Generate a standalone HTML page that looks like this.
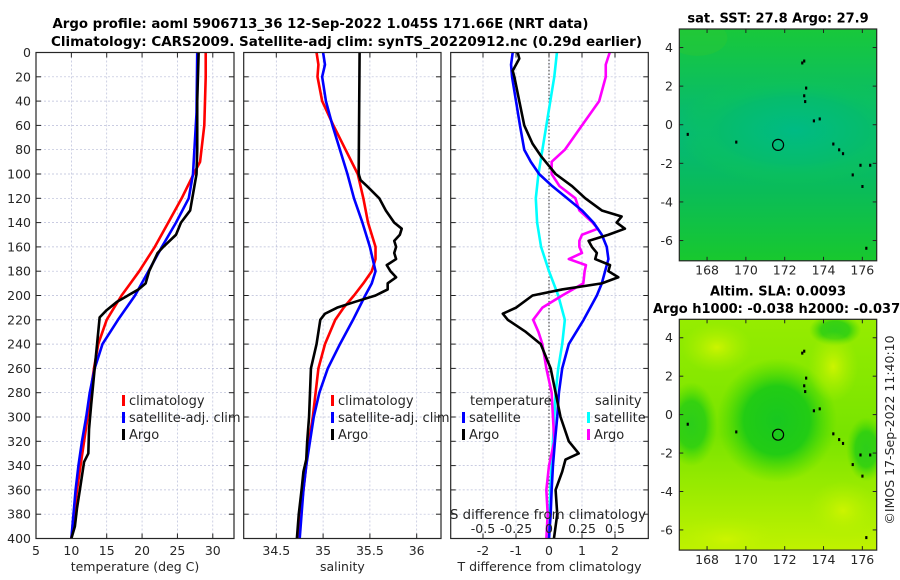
<!DOCTYPE html>
<html><head><meta charset="utf-8">
<style>
html,body{margin:0;padding:0;background:#fff;}
svg{display:block;font-family:"DejaVu Sans","Liberation Sans",sans-serif;}
</style></head>
<body>
<svg id="fig" width="900" height="580" viewBox="0 0 900 580" xmlns="http://www.w3.org/2000/svg">
<defs>
<radialGradient id="sstTeal" cx="0.5" cy="0.5" r="0.5">
<stop offset="0" stop-color="#00bb84"/><stop offset="0.6" stop-color="#06bc6c"/><stop offset="1" stop-color="#10c850" stop-opacity="0"/>
</radialGradient>
<linearGradient id="sstBase" x1="0" y1="0" x2="0" y2="1">
<stop offset="0" stop-color="#18c83a"/><stop offset="0.45" stop-color="#04b878"/><stop offset="0.7" stop-color="#0abc58"/><stop offset="1" stop-color="#18c82e"/>
</linearGradient>
<linearGradient id="slaBase" x1="0" y1="0" x2="0" y2="1">
<stop offset="0" stop-color="#96ec00"/><stop offset="0.5" stop-color="#78e400"/><stop offset="1" stop-color="#c0f200"/>
</linearGradient>
<radialGradient id="slaBlob" cx="0.5" cy="0.5" r="0.5">
<stop offset="0" stop-color="#18c820"/><stop offset="0.55" stop-color="#22cc14"/><stop offset="1" stop-color="#44d800" stop-opacity="0"/>
</radialGradient>
<radialGradient id="slaYel" cx="0.5" cy="0.5" r="0.5">
<stop offset="0" stop-color="#ccf400"/><stop offset="1" stop-color="#b0f000" stop-opacity="0"/>
</radialGradient>
<clipPath id="clipM1"><rect x="679.3" y="29" width="197.4" height="231.8"/></clipPath>
<clipPath id="clipM2"><rect x="679.3" y="319.3" width="197.4" height="230.8"/></clipPath>
</defs>
</svg>
<script>
// ---------------- data ----------------
const depthTicks = [0,20,40,60,80,100,120,140,160,180,200,220,240,260,280,300,320,340,360,380,400];
const tempTicks = [5,10,15,20,25,30];
const salTicks = [34.5,35,35.5,36];
const tdiffTicks = [-2,-1,0,1,2];
const sdiffTicks = [-0.5,-0.25,0,0.25,0.5];
const sdiffTickLabels = ["-0.5","-0.25","0","0.25","0.5"];
const lonTicks = [168,170,172,174,176];
const latTicks = [4,2,0,-2,-4,-6];

const climTempDepth = [0,20,60,90,100,120,140,160,180,200,220,240,260,280,300,320,340,360,380,400];
const climTemp      = [29.0,29.0,28.8,28.2,27.3,25.6,23.7,21.8,19.6,17.1,15.0,13.8,13.2,12.7,12.3,11.8,11.3,10.8,10.4,10.0];
const satTempDepth  = [0,50,100,120,140,160,180,200,220,240,260,280,300,320,340,360,380,400];
const satTemp       = [27.8,27.7,27.2,26.6,24.8,22.8,20.9,19.0,16.6,14.4,13.3,12.6,12.1,11.5,11.0,10.6,10.3,10.0];
const argoTempDepth = [0,40,80,100,110,130,140,150,160,165,180,190,195,205,212,218,230,260,290,310,330,337,360,375,390,400];
const argoTemp      = [28.0,27.8,27.8,27.7,27.4,26.8,25.5,24.8,23.0,22.2,21.0,20.5,19.5,16.5,15.0,14.0,13.8,13.3,12.8,12.5,12.4,11.8,11.2,10.8,10.5,10.0];

const climSalDepth = [0,10,20,40,60,80,100,120,140,160,170,180,190,200,210,220,240,260,280,300,320,340,360,380,400];
const climSal      = [34.93,34.95,34.94,34.99,35.11,35.24,35.37,35.43,35.48,35.56,35.56,35.52,35.43,35.33,35.22,35.13,35.02,34.95,34.92,34.89,34.85,34.82,34.79,34.76,34.74];
const satSalDepth  = [0,10,20,40,60,80,100,120,140,160,180,190,200,220,240,260,280,300,320,340,360,380,400];
const satSal       = [35.0,35.02,34.99,35.03,35.1,35.18,35.26,35.33,35.42,35.5,35.56,35.52,35.45,35.32,35.18,35.05,34.96,34.9,34.86,34.82,34.79,34.77,34.75];
const argoSalDepth = [0,100,105,110,120,130,140,145,150,155,160,165,170,175,180,185,190,195,200,205,210,215,220,240,260,280,300,320,335,345,360,380,400];
const argoSal      = [35.39,35.38,35.40,35.47,35.6,35.67,35.76,35.84,35.82,35.76,35.78,35.76,35.78,35.68,35.72,35.78,35.69,35.69,35.56,35.35,35.15,35.02,34.97,34.93,34.87,34.86,34.85,34.83,34.82,34.79,34.77,34.74,34.72];

const satTdDepth  = [0,10,20,40,60,80,90,100,110,120,130,140,150,160,170,180,190,200,220,240,260,280,300,320,340,360,380,400];
const satTd       = [-1.1,-1.15,-1.12,-1.0,-0.88,-0.75,-0.55,-0.3,0.1,0.55,1.0,1.35,1.6,1.75,1.8,1.7,1.6,1.45,1.05,0.6,0.4,0.3,0.25,0.18,0.12,0.08,0.05,0.0];
const argoTdDepth = [0,5,15,20,40,60,75,85,95,100,110,120,130,135,140,145,150,155,160,165,170,175,180,185,190,195,200,210,215,220,230,240,250,260,280,300,320,330,335,345,360,380,400];
const argoTd      = [-0.95,-0.9,-1.1,-1.05,-0.9,-0.75,-0.5,-0.25,0.05,0.2,0.7,1.1,1.6,2.2,2.05,2.3,1.8,1.2,1.3,1.45,1.4,1.85,1.8,2.1,1.6,0.4,-0.5,-1.0,-1.4,-1.25,-0.7,-0.25,-0.1,0.05,0.2,0.35,0.6,0.9,0.5,0.4,0.2,0.25,0.15];
const satSdDepth  = [0,20,40,60,80,100,120,140,160,180,200,220,240,260,280,300,320,360,400];
const satSd       = [0.06,0.04,0.01,-0.02,-0.05,-0.08,-0.1,-0.09,-0.06,0.0,0.07,0.12,0.1,0.07,0.05,0.04,0.03,0.01,0.0];
const argoSdDepth = [0,10,20,40,60,80,90,100,110,120,130,140,145,150,155,160,165,170,175,180,190,200,210,220,230,240,260,280,300,320,340,360,380,400];
const argoSd      = [0.46,0.43,0.43,0.38,0.25,0.12,0.02,0.02,0.08,0.2,0.23,0.33,0.37,0.25,0.23,0.23,0.25,0.15,0.28,0.27,0.26,0.1,-0.05,-0.12,-0.08,-0.05,-0.02,0.02,0.03,0.04,0.0,-0.02,-0.01,-0.02];

const argoLon = [171.66];
const argoLat = [-1.045];
const islandLon = [173.0,172.9,173.1,173.0,173.05,173.5,173.8,174.5,174.8,175.0,175.5,175.9,176.4,176.0,167.0,169.5,176.2];
const islandLat = [3.3,3.2,1.9,1.5,1.2,0.2,0.3,-1.0,-1.3,-1.5,-2.6,-2.1,-2.1,-3.2,-0.5,-0.9,-6.4];

// ---------------- helpers ----------------
const NS="http://www.w3.org/2000/svg";
const svg=document.getElementById('fig');
function mk(tag,attrs,parent){const e=document.createElementNS(NS,tag);for(const k in attrs)e.setAttribute(k,attrs[k]);(parent||svg).appendChild(e);return e;}
function txt(s,attrs,parent){const e=mk('text',attrs,parent);e.textContent=s;return e;}
function lin(d0,d1,r0,r1){return v=>r0+(v-d0)*(r1-r0)/(d1-d0);}

const Y0=52.5,Y1=538.5;
const yDepth=lin(0,400,Y0,Y1);

function panel(name,x0,x1,xs,xt,xlab,xtitle){
  const g=mk('g',{});
  
  
  depthTicks.forEach(d=>{
    const y=yDepth(d);
    const l=mk('line',{x1:x0,x2:x1,y1:y,y2:y,stroke:'#b8bcd8','stroke-width':0.7,'stroke-dasharray':'2,2'},g);
    
  });
  xt.forEach(v=>{
    const x=xs(v);
    const l=mk('line',{x1:x,x2:x,y1:Y0,y2:Y1,stroke:'#b8bcd8','stroke-width':0.7,'stroke-dasharray':'2,2'},g);
    
  });
  depthTicks.forEach(d=>{const y=yDepth(d);
    mk('line',{x1:x0,x2:x0+5,y1:y,y2:y,stroke:'#222','stroke-width':1},g);
    mk('line',{x1:x1-5,x2:x1,y1:y,y2:y,stroke:'#222','stroke-width':1},g);});
  xt.forEach((v,i)=>{const x=xs(v);
    mk('line',{x1:x,x2:x,y1:Y1,y2:Y1-5,stroke:'#222','stroke-width':1},g);
    mk('line',{x1:x,x2:x,y1:Y0,y2:Y0+5,stroke:'#222','stroke-width':1},g);
    const t=txt(xlab[i],{x:x,y:555,'font-size':12.5,'text-anchor':'middle',fill:'#262626'},g);
    
  });
  const tt=txt(xtitle,{x:(x0+x1)/2,y:571,'font-size':12.5,'text-anchor':'middle',fill:'#262626'},g);
  
  return g;
}
function frame(x0,x1){
  const r=mk('rect',{x:x0,y:Y0,width:x1-x0,height:Y1-Y0,fill:'none',stroke:'#262626','stroke-width':1.2});
  
}
function profile(name,depths,vals,xs,color,w){
  let d='';
  depths.forEach((z,i)=>{d+=(i?'L':'M')+xs(vals[i]).toFixed(2)+','+yDepth(z).toFixed(2);});
  const p=mk('path',{d:d,fill:'none',stroke:color,'stroke-width':w||2.6,'stroke-linejoin':'round'});
  
  
  return p;
}
function legendEntry(name,x,y,color,label){
  const g=mk('g',{});
  
  
  mk('rect',{x:x,y:y-10,width:3,height:11,fill:color},g);
  txt(label,{x:x+7,y:y,'font-size':13,fill:'#262626'},g);
}

// ---------------- titles ----------------
const t1=txt('Argo profile: aoml 5906713_36 12-Sep-2022 1.045S 171.66E (NRT data)',{x:52.5,y:28,'font-size':13,'font-weight':'bold',textLength:536,lengthAdjust:'spacingAndGlyphs',fill:'#000'});

const t2=txt('Climatology: CARS2009. Satellite-adj clim: synTS_20220912.nc (0.29d earlier)',{x:51,y:46,'font-size':13,'font-weight':'bold',textLength:591,lengthAdjust:'spacingAndGlyphs',fill:'#000'});


depthTicks.forEach(d=>{const t=txt(String(d),{x:31,y:yDepth(d)+4.5,'font-size':12.5,'text-anchor':'end',fill:'#262626'});
  });

// ---------------- panel 1: temperature ----------------
const xT=lin(5,33,36,234);
panel('temperature-panel',36,234,xT,tempTicks,tempTicks.map(String),'temperature (deg C)');
profile('temp-climatology-line',climTempDepth,climTemp,xT,'#ff0000');
profile('temp-satellite-line',satTempDepth,satTemp,xT,'#0000ff');
profile('temp-argo-line',argoTempDepth,argoTemp,xT,'#000000');
frame(36,234);
legendEntry('legend-climatology',122,405,'#ff0000','climatology');
legendEntry('legend-satellite-adj',122,422,'#0000ff','satellite-adj. clim');
legendEntry('legend-argo',122,439,'#000000','Argo');

// ---------------- panel 2: salinity ----------------
const xS=lin(34.5,36,276.3,416.7);
panel('salinity-panel',243.7,441,xS,salTicks,salTicks.map(String),'salinity');
profile('sal-climatology-line',climSalDepth,climSal,xS,'#ff0000');
profile('sal-satellite-line',satSalDepth,satSal,xS,'#0000ff');
profile('sal-argo-line',argoSalDepth,argoSal,xS,'#000000');
frame(243.7,441);
legendEntry('legend-sal-climatology',331,405,'#ff0000','climatology');
legendEntry('legend-sal-satellite-adj',331,422,'#0000ff','satellite-adj. clim');
legendEntry('legend-sal-argo',331,439,'#000000','Argo');

// ---------------- panel 3: differences ----------------
const xTd=lin(-2,2,483,615);
const xSd=lin(-0.5,0.5,483,615);
panel('difference-panel',450.7,648.3,xTd,tdiffTicks,tdiffTicks.map(String),'T difference from climatology');
const zl=mk('line',{x1:xTd(0),x2:xTd(0),y1:Y0,y2:Y1,stroke:'#333','stroke-width':1,'stroke-dasharray':'1.5,2'});

profile('sdiff-satellite-line',satSdDepth,satSd,xSd,'#00ffff');
profile('sdiff-argo-line',argoSdDepth,argoSd,xSd,'#ff00ff');
profile('tdiff-satellite-line',satTdDepth,satTd,xTd,'#0000ff');
profile('tdiff-argo-line',argoTdDepth,argoTd,xTd,'#000000');
frame(450.7,648.3);
const lt=txt('temperature',{x:470,y:405,'font-size':13,fill:'#262626'});
const ls=txt('salinity',{x:595,y:405,'font-size':13,fill:'#262626'});
legendEntry('legend-tdiff-satellite',462,422,'#0000ff','satellite');
legendEntry('legend-tdiff-argo',462,439,'#000000','Argo');
legendEntry('legend-sdiff-satellite',587,422,'#00ffff','satellite');
legendEntry('legend-sdiff-argo',587,439,'#ff00ff','Argo');
const sdt=txt('S difference from climatology',{x:450,y:519,'font-size':13,fill:'#262626',textLength:196,lengthAdjust:'spacingAndGlyphs'});

sdiffTicks.forEach((v,i)=>{const t=txt(sdiffTickLabels[i],{x:xSd(v),y:533,'font-size':12.5,'text-anchor':'middle',fill:'#262626'});
  });

// ---------------- maps ----------------
const xLon=lin(166.57,176.74,679.3,876.7);
function mapPanel(name,top,bottom,clip,bgFill,extras,labelY){
  const yLat=lin(4.96,-7.05,top,bottom);
  const g=mk('g',{});
  
  
  const cg=mk('g',{'clip-path':'url(#'+clip+')'},g);
  mk('rect',{x:679.3,y:top,width:197.4,height:bottom-top,fill:bgFill},cg);
  extras(cg,yLat);
  islandLon.forEach((lo,i)=>{const r=mk('rect',{x:xLon(lo)-1,y:yLat(islandLat[i])-1.5,width:2.2,height:3,fill:'#000'},cg);
    });
  argoLon.forEach((lo,i)=>{const c=mk('circle',{cx:xLon(lo),cy:yLat(argoLat[i]),r:5.5,fill:'none',stroke:'#000','stroke-width':1.2},g);
    });
  const fr=mk('rect',{x:679.3,y:top,width:197.4,height:bottom-top,fill:'none',stroke:'#262626','stroke-width':1.2},g);
  
  lonTicks.forEach(v=>{const x=xLon(v);
    mk('line',{x1:x,x2:x,y1:bottom,y2:bottom-4,stroke:'#222'},g);mk('line',{x1:x,x2:x,y1:top,y2:top+4,stroke:'#222'},g);
    const t=txt(String(v),{x:x,y:labelY,'font-size':12.5,'text-anchor':'middle',fill:'#262626'},g);
    });
  latTicks.forEach(v=>{const y=yLat(v);
    mk('line',{x1:679.3,x2:683.3,y1:y,y2:y,stroke:'#222'},g);mk('line',{x1:872.7,x2:876.7,y1:y,y2:y,stroke:'#222'},g);
    const t=txt(String(v),{x:673,y:y+4.5,'font-size':12.5,'text-anchor':'end',fill:'#262626'},g);
    });
}
mapPanel('sst-map',29,260.8,'clipM1','url(#sstBase)',(cg,yLat)=>{
  mk('ellipse',{cx:xLon(172.5),cy:yLat(-0.3),rx:120,ry:55,fill:'url(#sstTeal)'},cg);
  mk('ellipse',{cx:xLon(167.5),cy:yLat(4.5),rx:30,ry:18,fill:'#30c830',opacity:0.35},cg);
},274.6);
const mt1=txt('sat. SST: 27.8 Argo: 27.9',{x:778,y:22.5,'font-size':13,'font-weight':'bold','text-anchor':'middle',fill:'#000'});


mapPanel('sla-map',319.3,550.1,'clipM2','url(#slaBase)',(cg,yLat)=>{
  mk('ellipse',{cx:xLon(171.6),cy:yLat(-0.3),rx:60,ry:62,fill:'url(#slaBlob)'},cg);
  mk('ellipse',{cx:xLon(167.2),cy:yLat(-0.5),rx:26,ry:42,fill:'url(#slaBlob)',opacity:0.8},cg);
  mk('ellipse',{cx:xLon(176.2),cy:yLat(-1.8),rx:20,ry:32,fill:'url(#slaBlob)',opacity:0.8},cg);
  mk('ellipse',{cx:xLon(174.6),cy:yLat(4.4),rx:26,ry:16,fill:'url(#slaBlob)',opacity:0.8},cg);
  mk('ellipse',{cx:xLon(169),cy:yLat(-6.5),rx:60,ry:25,fill:'url(#slaYel)'},cg);
  mk('ellipse',{cx:xLon(174.5),cy:yLat(2.5),rx:25,ry:35,fill:'url(#slaYel)'},cg);
  mk('ellipse',{cx:xLon(168.5),cy:yLat(3.5),rx:35,ry:25,fill:'url(#slaYel)'},cg);
  mk('ellipse',{cx:xLon(175),cy:yLat(-5),rx:35,ry:30,fill:'url(#slaYel)'},cg);
},564);
const mt2=txt('Altim. SLA: 0.0093',{x:710,y:295.5,'font-size':13,'font-weight':'bold',fill:'#000'});

const mt3=txt('Argo h1000: -0.038 h2000: -0.037',{x:653,y:313,'font-size':13,'font-weight':'bold',fill:'#000'});


const cr=txt('©IMOS 17-Sep-2022 11:40:10',{x:0,y:0,'font-size':12.5,'text-anchor':'middle',fill:'#262626',transform:'translate(894,430) rotate(-90)'});

</script>
</body></html>
